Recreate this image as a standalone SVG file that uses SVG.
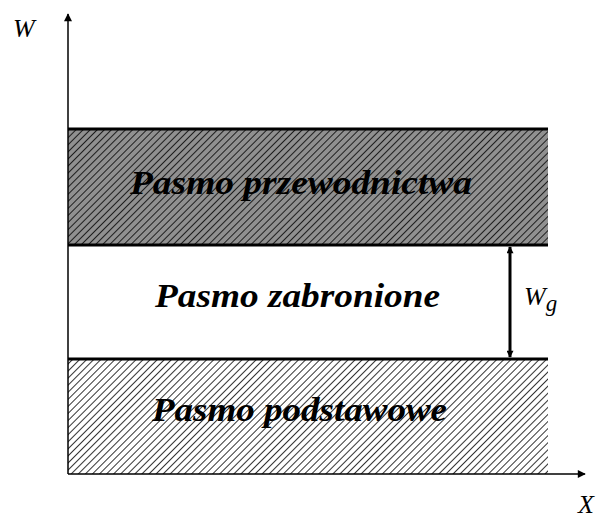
<svg xmlns="http://www.w3.org/2000/svg" width="605" height="519" viewBox="0 0 605 519">
  <style>
    .band-label { font-family: "Liberation Serif", "DejaVu Serif", serif; font-weight: bold; font-style: italic; font-size: 34px; fill: #000; }
    .axis-label { font-family: "Liberation Serif", "DejaVu Serif", serif; font-style: italic; font-size: 26px; fill: #000; }
    .axis { stroke: #000; stroke-width: 1.5; fill: none; }
    .edge { stroke: #000; stroke-width: 3; }
  </style>
  <defs>
    <pattern id="hatchDark" patternUnits="userSpaceOnUse" width="5" height="5" patternTransform="rotate(45)">
      <rect width="5" height="5" fill="#909090"/>
      <line x1="0" y1="0" x2="0" y2="5" stroke="#000" stroke-width="1.6"/>
    </pattern>
    <pattern id="hatchLight" patternUnits="userSpaceOnUse" width="5" height="5" patternTransform="rotate(45)">
      <rect width="5" height="5" fill="#fff"/>
      <line x1="0" y1="0" x2="0" y2="5" stroke="#000" stroke-width="1.6"/>
    </pattern>
    <marker id="arrowHead" viewBox="0 0 10 10" refX="9" refY="5" markerWidth="10" markerHeight="7" markerUnits="userSpaceOnUse" orient="auto-start-reverse">
      <path d="M0,0 L10,5 L0,10 z" fill="#000"/>
    </marker>
    <marker id="axisHead" viewBox="0 0 10 10" refX="9" refY="5" markerWidth="11" markerHeight="8" markerUnits="userSpaceOnUse" orient="auto">
      <path d="M0,0 L10,5 L0,10 z" fill="#000"/>
    </marker>
  </defs>

  <!-- conduction band -->
  <g id="conduction-band">
    <rect x="68" y="129" width="480" height="116" fill="url(#hatchDark)"/>
    <line class="edge" x1="68" y1="129" x2="548" y2="129"/>
    <line class="edge" x1="68" y1="245" x2="548" y2="245"/>
    <text class="band-label" x="130" y="194" textLength="342" lengthAdjust="spacingAndGlyphs">Pasmo przewodnictwa</text>
  </g>

  <!-- forbidden gap -->
  <g id="forbidden-band">
    <text class="band-label" x="155" y="307" textLength="285" lengthAdjust="spacingAndGlyphs">Pasmo zabronione</text>
  </g>

  <!-- valence band -->
  <g id="valence-band">
    <rect x="68" y="359" width="480" height="115" fill="url(#hatchLight)"/>
    <line class="edge" x1="68" y1="359" x2="548" y2="359"/>
    <text class="band-label" x="152" y="421" textLength="295" lengthAdjust="spacingAndGlyphs">Pasmo podstawowe</text>
  </g>

  <!-- axes and gap width -->
  <g id="connectors">
    <line class="axis" x1="68" y1="474" x2="68" y2="14" marker-end="url(#axisHead)"/>
    <line class="axis" x1="68" y1="474" x2="585" y2="474" marker-end="url(#axisHead)"/>
    <line x1="510" y1="247" x2="510" y2="357" stroke="#000" stroke-width="3" marker-start="url(#arrowHead)" marker-end="url(#arrowHead)"/>
  </g>

  <g id="labels">
    <text class="axis-label" x="13" y="37">W</text>
    <text class="axis-label" x="578" y="513">X</text>
    <text class="axis-label" x="524" y="305">W<tspan font-size="23" dy="6">g</tspan></text>
  </g>
</svg>
